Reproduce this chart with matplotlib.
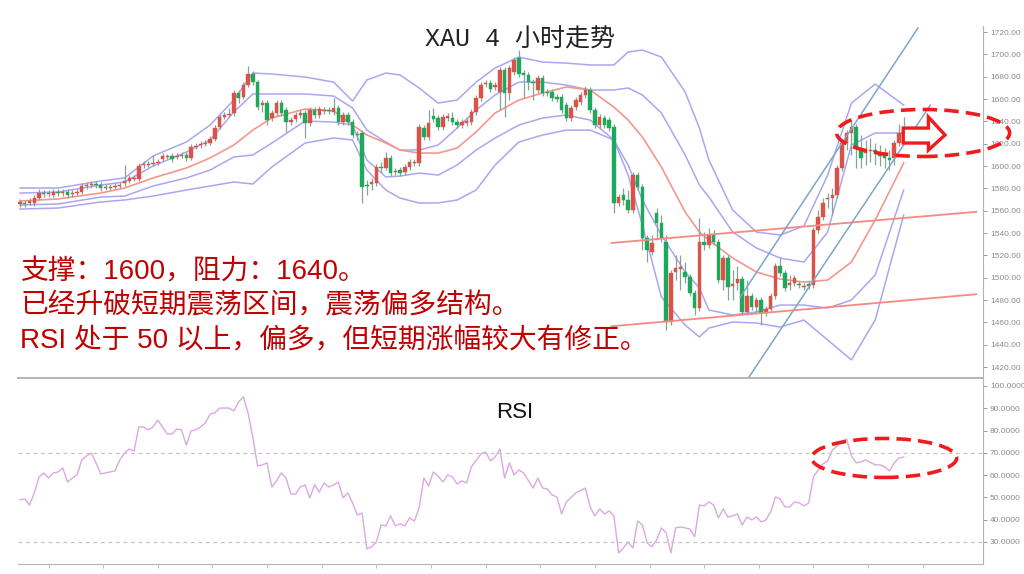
import numpy as np
import matplotlib.pyplot as plt
from matplotlib.patches import Ellipse, Polygon
from matplotlib.ticker import FormatStrFormatter

plt.rcParams['font.family'] = ['Liberation Sans', 'Noto Sans CJK SC', 'DejaVu Sans']

# 4小时K线 (开 / 收 / 高 / 低)
opens = [1566.0, 1566.9, 1566.9, 1566.9, 1571.3, 1575.8, 1574.9, 1574.0, 1576.7, 1575.8,
         1576.7, 1574.9, 1575.8, 1576.7, 1582.1, 1583.0, 1583.9, 1583.0, 1580.3, 1580.3,
         1581.2, 1582.1, 1584.8, 1586.6, 1588.4, 1588.4, 1600.9, 1600.9, 1601.8, 1602.7,
         1606.3, 1608.1, 1609.0, 1608.1, 1609.0, 1609.9, 1607.2, 1617.0, 1618.8, 1619.7,
         1620.6, 1624.2, 1634.9, 1643.9, 1645.7, 1647.5, 1665.4, 1661.8, 1672.5, 1682.4,
         1675.2, 1654.6, 1656.4, 1643.0, 1647.5, 1656.4, 1650.2, 1639.4, 1642.1, 1645.7,
         1647.5, 1638.5, 1650.2, 1645.7, 1649.3, 1650.2, 1648.4, 1652.0, 1639.4, 1645.7,
         1639.4, 1628.7, 1629.6, 1583.0, 1583.9, 1584.8, 1599.1, 1598.2, 1607.2, 1594.6,
         1596.4, 1594.6, 1599.1, 1602.7, 1602.7, 1634.0, 1626.0, 1644.8, 1643.0, 1634.9,
         1643.0, 1643.0, 1639.4, 1636.7, 1638.5, 1639.4, 1648.4, 1660.9, 1673.4, 1674.3,
         1670.8, 1666.3, 1686.0, 1665.4, 1684.2, 1696.7, 1683.3, 1681.5, 1675.2, 1668.1,
         1678.8, 1666.3, 1666.3, 1661.8, 1661.8, 1654.6, 1643.0, 1652.8, 1657.3, 1663.6,
         1668.1, 1650.2, 1636.7, 1643.0, 1641.2, 1634.9, 1566.9, 1574.0, 1569.6, 1560.6,
         1591.9, 1581.2, 1535.5, 1523.0, 1557.9, 1549.0, 1532.0, 1460.3, 1505.1, 1507.8,
         1505.1, 1500.6, 1486.3, 1472.8, 1532.0, 1529.3, 1538.2, 1532.0, 1497.9, 1517.6,
         1492.5, 1495.2, 1498.8, 1469.3, 1483.6, 1473.7, 1480.0, 1468.4, 1472.0, 1483.6,
         1510.5, 1504.2, 1493.4, 1495.2, 1494.3, 1491.7, 1494.3, 1493.4, 1542.7, 1554.3,
         1570.5, 1571.3, 1574.0, 1598.2, 1620.6, 1629.6, 1634.9, 1616.1, 1611.6, 1613.4,
         1614.3, 1610.8, 1609.9, 1607.2, 1607.2, 1620.6, 1628.7]
closes = [1567.8, 1566.0, 1568.7, 1571.3, 1575.8, 1574.9, 1575.8, 1576.7, 1575.8, 1576.7,
          1574.0, 1575.8, 1576.7, 1582.1, 1583.0, 1583.9, 1583.0, 1580.3, 1581.2, 1581.2,
          1582.1, 1583.0, 1586.6, 1589.3, 1589.3, 1600.0, 1601.8, 1601.8, 1602.7, 1603.6,
          1609.0, 1609.0, 1606.3, 1609.0, 1609.9, 1607.2, 1617.0, 1617.9, 1619.7, 1620.6,
          1624.2, 1634.0, 1643.9, 1645.7, 1646.6, 1665.4, 1660.9, 1672.5, 1682.4, 1675.2,
          1652.8, 1656.4, 1641.2, 1647.5, 1656.4, 1647.5, 1639.4, 1641.2, 1645.7, 1647.5,
          1638.5, 1650.2, 1645.7, 1651.1, 1650.2, 1649.3, 1652.0, 1639.4, 1645.7, 1639.4,
          1627.8, 1627.8, 1581.2, 1582.1, 1585.7, 1599.1, 1598.2, 1607.2, 1593.7, 1595.5,
          1593.7, 1599.1, 1603.6, 1603.6, 1634.9, 1626.0, 1638.5, 1642.1, 1634.9, 1643.9,
          1644.8, 1639.4, 1636.7, 1639.4, 1640.3, 1648.4, 1660.9, 1672.5, 1674.3, 1669.0,
          1672.5, 1686.0, 1665.4, 1687.8, 1694.9, 1682.4, 1681.5, 1675.2, 1674.3, 1678.8,
          1665.4, 1665.4, 1660.9, 1660.0, 1650.2, 1643.0, 1652.0, 1659.1, 1663.6, 1668.1,
          1650.2, 1636.7, 1643.9, 1636.7, 1634.0, 1566.9, 1572.2, 1569.6, 1560.6, 1591.9,
          1581.2, 1535.5, 1524.8, 1531.1, 1549.0, 1535.5, 1460.3, 1504.2, 1508.7, 1509.6,
          1500.6, 1486.3, 1472.8, 1532.0, 1529.3, 1538.2, 1532.0, 1497.9, 1517.6, 1491.7,
          1494.3, 1498.8, 1469.3, 1483.6, 1473.7, 1480.0, 1468.4, 1472.0, 1483.6, 1510.5,
          1504.2, 1490.8, 1495.2, 1499.7, 1493.4, 1492.5, 1492.5, 1542.7, 1554.3, 1566.9,
          1571.3, 1574.0, 1598.2, 1620.6, 1629.6, 1634.9, 1616.1, 1607.2, 1612.5, 1614.3,
          1612.5, 1609.0, 1607.2, 1605.4, 1620.6, 1629.6, 1630.5]
highs = [1570.5, 1569.6, 1571.3, 1574.0, 1579.4, 1578.5, 1578.5, 1579.4, 1579.4, 1579.4,
         1579.4, 1578.5, 1579.4, 1584.8, 1585.7, 1586.6, 1586.6, 1585.7, 1583.9, 1583.9,
         1584.8, 1585.7, 1600.9, 1591.9, 1591.9, 1602.7, 1604.5, 1604.5, 1609.9, 1606.3,
         1611.6, 1610.8, 1611.6, 1611.6, 1612.5, 1612.5, 1619.7, 1620.6, 1622.4, 1623.3,
         1626.9, 1636.7, 1646.6, 1648.4, 1652.0, 1668.1, 1668.1, 1675.2, 1689.6, 1685.1,
         1677.0, 1659.1, 1659.1, 1650.2, 1659.1, 1659.1, 1652.8, 1643.9, 1648.4, 1650.2,
         1650.2, 1652.8, 1652.8, 1653.7, 1652.8, 1652.8, 1660.9, 1654.6, 1648.4, 1648.4,
         1642.1, 1631.3, 1632.2, 1587.5, 1589.3, 1601.8, 1603.6, 1612.5, 1609.9, 1598.2,
         1599.1, 1601.8, 1606.3, 1606.3, 1637.6, 1636.7, 1650.2, 1652.0, 1645.7, 1646.6,
         1647.5, 1648.4, 1642.1, 1642.1, 1643.0, 1651.1, 1663.6, 1675.2, 1677.0, 1677.0,
         1675.2, 1688.7, 1688.7, 1690.5, 1697.6, 1703.9, 1686.0, 1684.2, 1677.9, 1681.5,
         1681.5, 1669.0, 1669.0, 1664.5, 1664.5, 1657.3, 1654.6, 1661.8, 1666.3, 1671.6,
         1670.8, 1652.8, 1646.6, 1645.7, 1643.9, 1637.6, 1574.9, 1580.3, 1578.5, 1594.6,
         1594.6, 1583.9, 1538.2, 1538.2, 1562.4, 1556.1, 1538.2, 1506.9, 1520.3, 1520.3,
         1514.0, 1503.3, 1489.0, 1553.4, 1540.9, 1544.5, 1542.7, 1534.6, 1520.3, 1520.3,
         1506.9, 1510.5, 1501.5, 1497.9, 1486.3, 1482.7, 1482.7, 1474.6, 1486.3, 1513.1,
         1517.6, 1506.9, 1502.4, 1502.4, 1497.0, 1495.2, 1497.0, 1545.4, 1560.6, 1571.3,
         1575.8, 1580.3, 1600.9, 1623.3, 1632.2, 1641.2, 1637.6, 1627.8, 1623.3, 1625.1,
         1620.6, 1618.8, 1616.1, 1614.3, 1623.3, 1637.6, 1643.9]
lows = [1563.3, 1563.3, 1565.1, 1564.2, 1569.6, 1572.2, 1572.2, 1572.2, 1573.1, 1573.1,
        1571.3, 1572.2, 1574.0, 1574.9, 1579.4, 1580.3, 1580.3, 1577.6, 1578.5, 1578.5,
        1579.4, 1580.3, 1582.1, 1584.8, 1586.6, 1586.6, 1598.2, 1599.1, 1600.0, 1600.9,
        1604.5, 1606.3, 1603.6, 1606.3, 1607.2, 1604.5, 1605.4, 1615.2, 1616.1, 1617.9,
        1618.8, 1622.4, 1633.1, 1642.1, 1643.9, 1644.8, 1656.4, 1660.0, 1670.8, 1672.5,
        1650.2, 1648.4, 1636.7, 1640.3, 1644.8, 1644.8, 1630.5, 1636.7, 1639.4, 1643.0,
        1625.1, 1635.8, 1643.0, 1643.0, 1646.6, 1646.6, 1645.7, 1636.7, 1636.7, 1636.7,
        1625.1, 1623.3, 1566.9, 1574.0, 1578.5, 1582.1, 1594.6, 1596.4, 1591.0, 1591.9,
        1591.0, 1591.9, 1596.4, 1600.0, 1600.0, 1623.3, 1623.3, 1639.4, 1632.2, 1632.2,
        1640.3, 1636.7, 1634.0, 1634.0, 1635.8, 1636.7, 1645.7, 1658.2, 1670.8, 1666.3,
        1668.1, 1650.2, 1643.9, 1659.1, 1681.5, 1679.7, 1660.9, 1668.1, 1659.1, 1665.4,
        1662.7, 1662.7, 1658.2, 1657.3, 1647.5, 1640.3, 1640.3, 1650.2, 1654.6, 1660.9,
        1647.5, 1634.0, 1634.0, 1634.0, 1631.3, 1557.9, 1564.2, 1565.1, 1557.9, 1557.9,
        1578.5, 1524.8, 1514.0, 1520.3, 1533.7, 1532.0, 1453.1, 1457.6, 1497.9, 1489.0,
        1495.2, 1483.6, 1466.6, 1470.2, 1524.8, 1526.6, 1529.3, 1495.2, 1489.0, 1480.0,
        1480.0, 1489.0, 1466.6, 1466.6, 1471.1, 1468.4, 1457.6, 1465.7, 1469.3, 1480.9,
        1501.5, 1488.1, 1489.0, 1492.5, 1490.8, 1489.0, 1489.9, 1490.8, 1540.0, 1551.7,
        1562.4, 1556.1, 1571.3, 1595.5, 1614.3, 1609.9, 1598.2, 1598.2, 1600.9, 1603.6,
        1600.9, 1600.0, 1598.2, 1596.4, 1600.9, 1617.9, 1626.9]

# 布林带与均线 (按K线序号取样)
band_idx = [0, 8, 17, 22, 28, 35, 40, 45, 49, 53, 60, 66, 70, 73, 77, 80, 84, 88, 92, 96,
            100, 105, 110, 115, 120, 125, 128, 131, 135, 140, 143, 145, 150, 155, 160, 165,
            170, 175, 180, 186]
upper_outer = [1580.3, 1580.3, 1586.6, 1589.3, 1609.0, 1621.5, 1636.7, 1659.1, 1683.3, 1682.4,
               1679.7, 1675.2, 1658.2, 1677.0, 1683.3, 1681.5, 1669.9, 1656.4, 1659.1, 1675.2,
               1687.8, 1697.6, 1693.1, 1692.2, 1690.5, 1690.5, 1702.1, 1703.9, 1697.6, 1666.3,
               1634.0, 1605.4, 1560.6, 1540.9, 1538.2, 1546.3, 1591.9, 1656.4, 1673.4, 1654.6]
upper_inner = [1575.8, 1576.7, 1583.0, 1585.7, 1600.0, 1612.5, 1623.3, 1648.4, 1664.5, 1664.5,
               1664.5, 1662.7, 1652.0, 1632.2, 1621.5, 1614.3, 1614.3, 1618.8, 1634.0, 1650.2,
               1663.6, 1675.2, 1675.2, 1672.5, 1668.1, 1668.1, 1669.9, 1663.6, 1647.5, 1609.9,
               1583.0, 1572.2, 1540.9, 1526.6, 1517.6, 1514.0, 1540.9, 1618.8, 1629.6, 1629.6]
ma_line = [1568.7, 1570.5, 1575.8, 1580.3, 1589.3, 1598.2, 1607.2, 1618.8, 1632.2, 1643.0,
           1651.1, 1649.3, 1636.7, 1627.8, 1620.6, 1614.3, 1611.6, 1611.6, 1616.1, 1630.5,
           1647.5, 1659.1, 1665.4, 1670.8, 1668.1, 1652.8, 1641.2, 1626.0, 1599.1, 1558.8,
           1540.9, 1533.7, 1517.6, 1505.1, 1498.8, 1496.1, 1497.9, 1514.0, 1551.7, 1602.7]
lower_inner = [1565.1, 1566.0, 1572.2, 1573.1, 1582.1, 1589.3, 1596.4, 1608.1, 1609.9, 1620.6,
               1640.3, 1639.4, 1636.7, 1605.4, 1590.2, 1591.0, 1593.7, 1591.9, 1600.9, 1614.3,
               1625.1, 1636.7, 1643.0, 1645.7, 1641.2, 1623.3, 1600.9, 1569.6, 1538.2, 1505.1,
               1490.8, 1471.1, 1466.6, 1469.3, 1475.5, 1475.5, 1472.8, 1480.0, 1502.4, 1578.5]
lower_outer = [1561.5, 1562.4, 1567.8, 1569.6, 1573.1, 1578.5, 1582.1, 1585.7, 1583.9, 1599.1,
               1620.6, 1625.1, 1623.3, 1596.4, 1578.5, 1571.3, 1566.9, 1566.9, 1569.6, 1578.5,
               1600.9, 1621.5, 1627.8, 1632.2, 1632.2, 1623.3, 1591.9, 1547.2, 1482.7, 1457.6,
               1446.9, 1454.9, 1460.3, 1459.4, 1455.8, 1462.1, 1444.2, 1426.4, 1462.1, 1556.1]

# 震荡区间通道与上升趋势线
channel_idx = [124.5, 201.3]
channel_top = [1531.1, 1559.0]
channel_bottom = [1456.5, 1485.2]
trend_a_idx = [151.6, 189.0]
trend_a = [1482.7, 1723.6]
trend_b_idx = [153.3, 191.6]
trend_b = [1410.2, 1654.6]

# RSI
rsi_idx = [0, 1, 2, 3, 4, 5, 6, 7, 8, 9, 10, 11, 12, 13, 14, 15, 16, 17, 18, 20,
           21, 22, 23, 24, 25, 26, 27, 28, 29, 31, 32, 33, 34, 35, 36, 37, 38, 39, 40, 41,
           42, 44, 45, 46, 47, 48, 49, 50, 51, 52, 53, 54, 55, 56, 57, 58, 59, 60, 61, 62,
           63, 64, 65, 66, 67, 68, 69, 70, 71, 72, 73, 74, 75, 76, 77, 78, 79, 80, 81, 82,
           83, 84, 85, 86, 87, 88, 89, 90, 91, 92, 93, 94, 95, 97, 98, 99, 100, 101, 102, 103,
           104, 105, 106, 108, 109, 110, 111, 112, 113, 114, 115, 117, 119, 120, 121, 122, 123, 124, 125, 126,
           127, 128, 129, 130, 131, 132, 133, 134, 135, 136, 137, 138, 139, 140, 141, 142, 143, 144, 145, 146,
           147, 148, 149, 150, 151, 152, 153, 154, 155, 156, 157, 158, 159, 160, 161, 162, 163, 164, 165, 166,
           167, 168, 169, 170, 171, 172, 173, 174, 175, 176, 177, 178, 180, 181, 182, 183, 184, 185, 186]
rsi_val = [48.9, 49.3, 46.6, 52.0, 59.2, 61.0, 58.7, 61.0, 61.4, 63.2, 56.9, 58.7, 60.1, 66.8, 68.6, 69.9, 65.5, 60.5, 61.0, 61.9,
           66.8, 69.9, 71.7, 70.8, 81.6, 81.6, 80.3, 81.6, 84.7, 78.5, 78.5, 80.7, 80.3, 73.5, 79.8, 80.3, 81.6, 83.4, 87.4, 87.9,
           90.1, 90.1, 88.8, 92.8, 95.1, 87.9, 77.1, 64.1, 64.6, 65.5, 54.7, 57.4, 61.0, 58.7, 51.5, 51.5, 54.7, 55.6, 49.8, 55.6,
           52.4, 56.5, 54.7, 55.6, 56.9, 49.8, 52.0, 47.5, 42.1, 43.0, 26.9, 27.8, 30.0, 37.6, 37.2, 41.7, 37.2, 38.1, 37.2, 40.8,
           39.4, 45.3, 58.7, 55.1, 61.4, 59.6, 56.9, 60.1, 59.2, 56.0, 57.4, 56.5, 63.7, 69.5, 70.4, 66.4, 68.1, 71.7, 58.7, 65.5,
           60.1, 62.3, 61.0, 54.2, 58.7, 54.2, 53.8, 51.1, 50.2, 42.6, 48.0, 52.0, 54.2, 45.7, 41.7, 44.8, 42.6, 43.9, 41.7, 25.1,
           27.3, 30.0, 27.3, 39.4, 37.6, 29.6, 27.8, 30.9, 36.3, 34.1, 25.1, 36.3, 36.7, 36.3, 35.8, 32.3, 46.6, 46.2, 48.0, 46.6,
           40.8, 44.8, 41.2, 41.7, 42.6, 37.6, 41.2, 39.9, 41.2, 39.0, 39.9, 43.5, 50.2, 49.3, 45.7, 45.7, 48.0, 47.5, 46.2, 47.5,
           59.2, 62.3, 65.0, 66.4, 71.3, 73.1, 75.3, 76.2, 68.6, 65.5, 65.9, 66.8, 64.6, 64.6, 63.7, 61.9, 65.5, 67.7, 68.1]

RED = '#dc5249'
GREEN = '#1ea85c'
WICK = '#86a396'
PURPLE = '#aaa6f2'
SALMON = '#f7968b'
BLUE = '#7fa6c8'
GRAY = '#8c8c8c'
SPINE = '#b4b4b4'
MARK = '#ee1c1c'

fig = plt.figure(figsize=(10.24, 5.74), dpi=100)
ax = fig.add_axes([0.0176, 0.3415, 0.9424, 0.6132])
ax2 = fig.add_axes([0.0176, 0.0174, 0.9424, 0.3241])

# 主图
x = np.arange(len(opens))
o = np.array(opens)
c = np.array(closes)
col = np.where(c >= o, RED, GREEN)
ax.vlines(x, lows, highs, color=WICK, lw=0.9, zorder=2)
body = np.maximum(np.abs(c - o), 0.8)
ax.bar(x, body, bottom=np.minimum(o, c), width=0.72, color=col, edgecolor=col, lw=0.3, zorder=3)

for band in (upper_outer, upper_inner, lower_inner, lower_outer):
    ax.plot(band_idx, band, color=PURPLE, lw=1.1, zorder=1)
ax.plot(band_idx, ma_line, color=SALMON, lw=1.2, zorder=1)

ax.plot(channel_idx, channel_top, color='#f48a82', lw=1.3, zorder=4)
ax.plot(channel_idx, channel_bottom, color='#f48a82', lw=1.3, zorder=4)
ax.plot(trend_a_idx, trend_a, color=BLUE, lw=1.1, zorder=4, clip_on=False)
ax.plot(trend_b_idx, trend_b, color=BLUE, lw=1.1, zorder=4)

ax.set_xlim(-0.42, 202.7)
ax.set_ylim(1410.2, 1725.4)
ax.set_xticks([])
ax.yaxis.tick_right()
ax.set_yticks(np.arange(1420, 1721, 20))
ax.yaxis.set_major_formatter(FormatStrFormatter('%.2f'))
ax.tick_params(axis='y', labelsize=6, colors=GRAY, length=3, width=0.6, pad=2)
for s in ('left', 'top', 'bottom'):
    ax.spines[s].set_visible(False)
ax.spines['right'].set_color(SPINE)

ax.add_patch(Ellipse((190.1, 1629.6), 36.4, 42.1, fill=False, ec=MARK, lw=2.6,
                     ls=(0, (4, 2)), clip_on=False, zorder=6))
ax.add_patch(Polygon([(185.9, 1634.0), (191.2, 1634.0), (191.2, 1643.9), (194.7, 1627.8),
                      (191.2, 1614.3), (191.2, 1620.6), (185.9, 1620.6)],
                     closed=True, fc='white', ec=MARK, lw=2.4, clip_on=False, zorder=7))

# RSI 副图
ax2.plot(rsi_idx, rsi_val, color='#dba8e2', lw=1.0)
ax2.axhline(70, color='#c4c4c4', lw=0.9, ls=(0, (3, 3)))
ax2.axhline(30, color='#c4c4c4', lw=0.9, ls=(0, (3, 3)))
ax2.set_xlim(-0.42, 202.7)
ax2.set_ylim(20.1, 103.6)
ax2.yaxis.tick_right()
ax2.set_yticks(np.arange(30, 101, 10))
ax2.yaxis.set_major_formatter(FormatStrFormatter('%.4f'))
ax2.tick_params(axis='y', labelsize=6, colors=GRAY, length=3, width=0.6, pad=2)
ax2.set_xticks(np.arange(6, 200, 11.5))
ax2.set_xticklabels([])
ax2.tick_params(axis='x', length=3, width=0.6, colors=SPINE)
ax2.spines['left'].set_visible(False)
for s in ('right', 'top', 'bottom'):
    ax2.spines[s].set_color(SPINE)
ax2.spines['top'].set_linewidth(1.4)
ax2.add_patch(Ellipse((181.9, 67.7), 30.5, 17.5, fill=False, ec=MARK, lw=2.6,
                      ls=(0, (4, 2)), clip_on=False, zorder=6))

# 文字
fig.text(520 / 1024, 1 - 40 / 574, 'XAU 4 小时走势', fontsize=18, color='#222222',
         family=['Liberation Mono', 'Noto Sans CJK SC'], ha='center', va='center')
fig.text(515 / 1024, 1 - 413 / 574, 'RSI', fontsize=16, color='#111111', ha='center', va='center')
notes = ['支撑：1600，阻力：1640。',
         '已经升破短期震荡区间，震荡偏多结构。',
         'RSI 处于 50 以上，偏多，但短期涨幅较大有修正。']
for k, line in enumerate(notes):
    fig.text(20 / 1024, 1 - (272 + 34.5 * k) / 574, line, fontsize=20, color='#c00000',
             ha='left', va='center')

fig.savefig('out.png', dpi=100)
